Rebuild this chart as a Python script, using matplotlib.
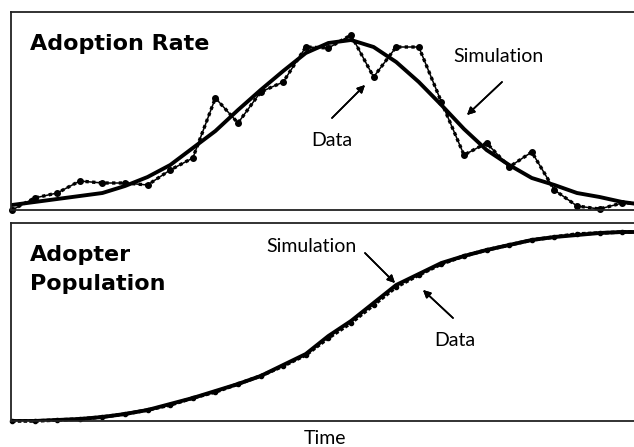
import numpy as np
import matplotlib.pyplot as plt

# time steps (arbitrary units, one per data point)
time = np.arange(29)

# adoption rate (arbitrary units)
rate_data = [0, 12, 17, 29, 27, 27, 25, 40, 52, 112, 87, 118, 128, 163, 162,
             175, 133, 163, 163, 108, 55, 67, 43, 58, 20, 4, 1, 7, 7]
rate_sim = [5, 8, 11, 14, 17, 24, 33, 45, 62, 79, 100, 120, 139, 157, 167,
            170, 163, 148, 128, 105, 81, 60, 45, 32, 25, 17, 13, 8, 5]

# adopter population
pop_data = [0, 0, 1, 2, 4, 7, 11, 16, 23, 29, 37, 45, 55, 66, 83, 98, 116,
            134, 146, 157, 165, 171, 176, 181, 184, 187, 188, 189, 189]
pop_sim = [0, 0, 1, 2, 4, 7, 11, 17, 23, 30, 37, 45, 56, 67, 85, 100, 118,
           136, 147, 158, 165, 171, 176, 181, 184, 186, 188, 189, 189]

W, H = 634, 447
plt.rcParams['font.family'] = ['Lato', 'DejaVu Sans']

fig = plt.figure(figsize=(W / 100, H / 100), dpi=100)


def px(x, y):
    # pixel position -> figure fraction
    return x / W, 1 - y / H


def make_axes(top, bottom):
    l, r = 11, 650
    ax = fig.add_axes([l / W, 1 - bottom / H, (r - l) / W, (bottom - top) / H])
    ax.set_xlim((l - 12) / 22.6, (r - 12) / 22.6)
    ax.set_ylim(0, 198)
    ax.set_xticks([])
    ax.set_yticks([])
    for s in ax.spines.values():
        s.set_linewidth(1.3)
        s.set_color('#222222')
    return ax


ax1 = make_axes(12, 210)
ax2 = make_axes(223, 421)

# top panel: adoption rate
ax1.plot(time, rate_data, color='black', lw=1.1, clip_on=False)
ax1.plot(time, rate_data, color='black', lw=2.4, ls=(0, (1, 1)), clip_on=False)
ax1.plot(time, rate_data, 'o', color='black', ms=4, clip_on=False)
ax1.plot(time, rate_sim, color='black', lw=2.8, solid_capstyle='round',
         solid_joinstyle='round')

# bottom panel: adopter population
ax2.plot(time, pop_data, color='black', lw=2.6, ls=(0, (1, 0.6)), clip_on=False)
ax2.plot(time, pop_data, 'o', color='black', ms=3, clip_on=False)
ax2.plot(time, pop_sim, color='black', lw=2.8, solid_joinstyle='round')

arrow = dict(arrowstyle='-|>', color='black', lw=1.2, mutation_scale=11,
             shrinkA=0, shrinkB=0)

title = dict(fontsize=16, fontweight='bold', va='baseline', ha='left',
             family='DejaVu Sans')
fig.text(*px(30, 50), 'Adoption Rate', **title)
fig.text(*px(30, 261), 'Adopter', **title)
fig.text(*px(30, 290), 'Population', **title)

label = dict(fontsize=14, ha='center', va='center')
fig.text(*px(498, 57), 'Simulation', **label)
fig.text(*px(332, 140), 'Data', **label)
fig.text(*px(311, 247), 'Simulation', **label)
fig.text(*px(455, 340), 'Data', **label)
fig.text(*px(325, 439), 'Time', **label)

for tail, head in [((332, 118), (365, 85)), ((502, 82), (467, 115)),
                   ((365, 253), (395, 283)), ((453, 318), (423, 290))]:
    fig.add_artist(plt.annotate('', xy=px(*head), xytext=px(*tail),
                                xycoords='figure fraction',
                                textcoords='figure fraction',
                                arrowprops=arrow))

fig.savefig('out.png', dpi=100)
